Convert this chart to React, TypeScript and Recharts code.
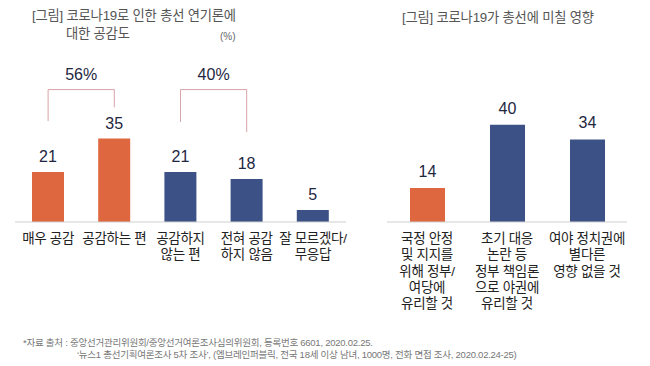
import React from 'react';
import { BarChart, Bar, XAxis, YAxis, LabelList, ReferenceLine, Cell } from 'recharts';

const FONT = '"Liberation Sans", "Noto Sans CJK KR", sans-serif';

// Left chart: 코로나19로 인한 총선 연기론에 대한 공감도
const leftCategories = ['매우 공감', '공감하는 편', '공감하지\n않는 편', '전혀 공감\n하지 않음', '잘 모르겠다/\n무응답'];
const leftValues = [21, 35, 21, 18, 5];
const leftGroups = ['agree', 'agree', 'disagree', 'disagree', 'disagree'];

// Bracket annotations (sum labels)
const bracketFrom = ['매우 공감', '공감하지\n않는 편'];
const bracketTo = ['공감하는 편', '전혀 공감\n하지 않음'];
const bracketTotals = ['56%', '40%'];
const bracketTop = [55.5, 55.5];
const bracketFromEnd = [42.3, 41.9];
const bracketToEnd = [48.1, 37.7];

// Right chart: 코로나19가 총선에 미칠 영향
const rightCategories = [
  '국정 안정\n및 지지를\n위해 정부/\n여당에\n유리할 것',
  '초기 대응\n논란 등\n정부 책임론\n으로 야권에\n유리할 것',
  '여야 정치권에\n별다른\n영향 없을 것',
];
const rightValues = [14, 40, 34];
const rightGroups = ['agree', 'disagree', 'disagree'];

const COLORS: Record<string, string> = { agree: '#DE6740', disagree: '#3C5287' };

const leftData = leftCategories.map((c, i) => ({ name: c, value: leftValues[i], group: leftGroups[i] }));
const rightData = rightCategories.map((c, i) => ({ name: c, value: rightValues[i], group: rightGroups[i] }));

const MultiTick = (props: any) => {
  const { x, y, payload } = props;
  const lines = String(payload.value).split('\n');
  return (
    <text x={x} y={y} textAnchor="middle" fill="#222" fontSize={13.5} fontFamily={FONT} letterSpacing={-0.3}>
      {lines.map((l, i) => (
        <tspan key={i} x={x} dy={i === 0 ? 21 : 16.3}>
          {l}
        </tspan>
      ))}
    </text>
  );
};

const BRACKET = '#D9A3A8';

export default function App() {
  return (
    <div
      style={{
        position: 'absolute',
        left: 0,
        top: 0,
        width: 650,
        height: 366,
        background: '#fff',
        fontFamily: FONT,
        overflow: 'hidden',
      }}
    >
      <div style={{ position: 'absolute', left: 32, top: 8, fontSize: 13.3, lineHeight: '15px', color: '#555', whiteSpace: 'nowrap', letterSpacing: -0.2 }}>
        [그림] 코로나19로 인한 총선 연기론에
      </div>
      <div style={{ position: 'absolute', left: 66, top: 26, fontSize: 13.3, lineHeight: '15px', color: '#555', whiteSpace: 'nowrap', letterSpacing: -0.2 }}>
        대한 공감도
      </div>
      <div style={{ position: 'absolute', left: 220, top: 31, fontSize: 10, lineHeight: '12px', color: '#666', whiteSpace: 'nowrap' }}>
        (%)
      </div>
      <div style={{ position: 'absolute', left: 402, top: 10, fontSize: 13.3, lineHeight: '15px', color: '#555', whiteSpace: 'nowrap', letterSpacing: -0.2 }}>
        [그림] 코로나19가 총선에 미칠 영향
      </div>

      <div style={{ position: 'absolute', left: 0, top: 0 }}>
        <BarChart width={350} height={320} data={leftData} margin={{ top: 55, right: 4, left: 15, bottom: 38 }}>
          <XAxis
            dataKey="name"
            height={60}
            tickLine={false}
            tickSize={0}
            tickMargin={0}
            axisLine={{ stroke: '#cfcfcf' }}
            tick={<MultiTick />}
            interval={0}
          />
          <YAxis hide domain={[0, 70]} />
          <Bar dataKey="value" barSize={32} isAnimationActive={false}>
            {leftData.map((d, i) => (
              <Cell key={i} fill={COLORS[d.group]} />
            ))}
            <LabelList dataKey="value" position="top" offset={10} fill="#1E2640" fontSize={16} fontFamily={FONT} />
          </Bar>
          {bracketFrom.map((f, i) => (
            <ReferenceLine
              key={'l' + i}
              segment={[
                { x: f, y: bracketFromEnd[i] },
                { x: f, y: bracketTop[i] },
              ]}
              stroke={BRACKET}
              strokeWidth={1}
            />
          ))}
          {bracketTo.map((t, i) => (
            <ReferenceLine
              key={'r' + i}
              segment={[
                { x: t, y: bracketToEnd[i] },
                { x: t, y: bracketTop[i] },
              ]}
              stroke={BRACKET}
              strokeWidth={1}
            />
          ))}
          {bracketFrom.map((f, i) => (
            <ReferenceLine
              key={'t' + i}
              segment={[
                { x: f, y: bracketTop[i] },
                { x: bracketTo[i], y: bracketTop[i] },
              ]}
              stroke={BRACKET}
              strokeWidth={1}
              label={{ value: bracketTotals[i], position: 'top', offset: 10, fill: '#1E2640', fontSize: 16, fontFamily: FONT }}
            />
          ))}
        </BarChart>
      </div>

      <div style={{ position: 'absolute', left: 350, top: 0 }}>
        <BarChart width={300} height={320} data={rightData} margin={{ top: 52, right: 23, left: 37, bottom: 38 }}>
          <XAxis
            dataKey="name"
            height={60}
            tickLine={false}
            tickSize={0}
            tickMargin={0}
            axisLine={{ stroke: '#cfcfcf' }}
            tick={<MultiTick />}
            interval={0}
          />
          <YAxis hide domain={[0, 70]} />
          <Bar dataKey="value" barSize={35} isAnimationActive={false}>
            {rightData.map((d, i) => (
              <Cell key={i} fill={COLORS[d.group]} />
            ))}
            <LabelList dataKey="value" position="top" offset={11} fill="#1E2640" fontSize={16} fontFamily={FONT} />
          </Bar>
        </BarChart>
      </div>

      <div style={{ position: 'absolute', left: 23, top: 337, fontSize: 9.5, lineHeight: '12px', color: '#777', whiteSpace: 'nowrap', letterSpacing: -0.25 }}>
        *자료 출처 : 중앙선거관리위원회/중앙선거여론조사심의위원회, 등록번호 6601, 2020.02.25.
      </div>
      <div style={{ position: 'absolute', left: 77, top: 349, fontSize: 9.5, lineHeight: '12px', color: '#777', whiteSpace: 'nowrap', letterSpacing: -0.25 }}>
        ‘뉴스1 총선기획여론조사 5차 조사’, (엠브레인퍼블릭, 전국 18세 이상 남녀, 1000명, 전화 면접 조사, 2020.02.24-25)
      </div>
    </div>
  );
}
